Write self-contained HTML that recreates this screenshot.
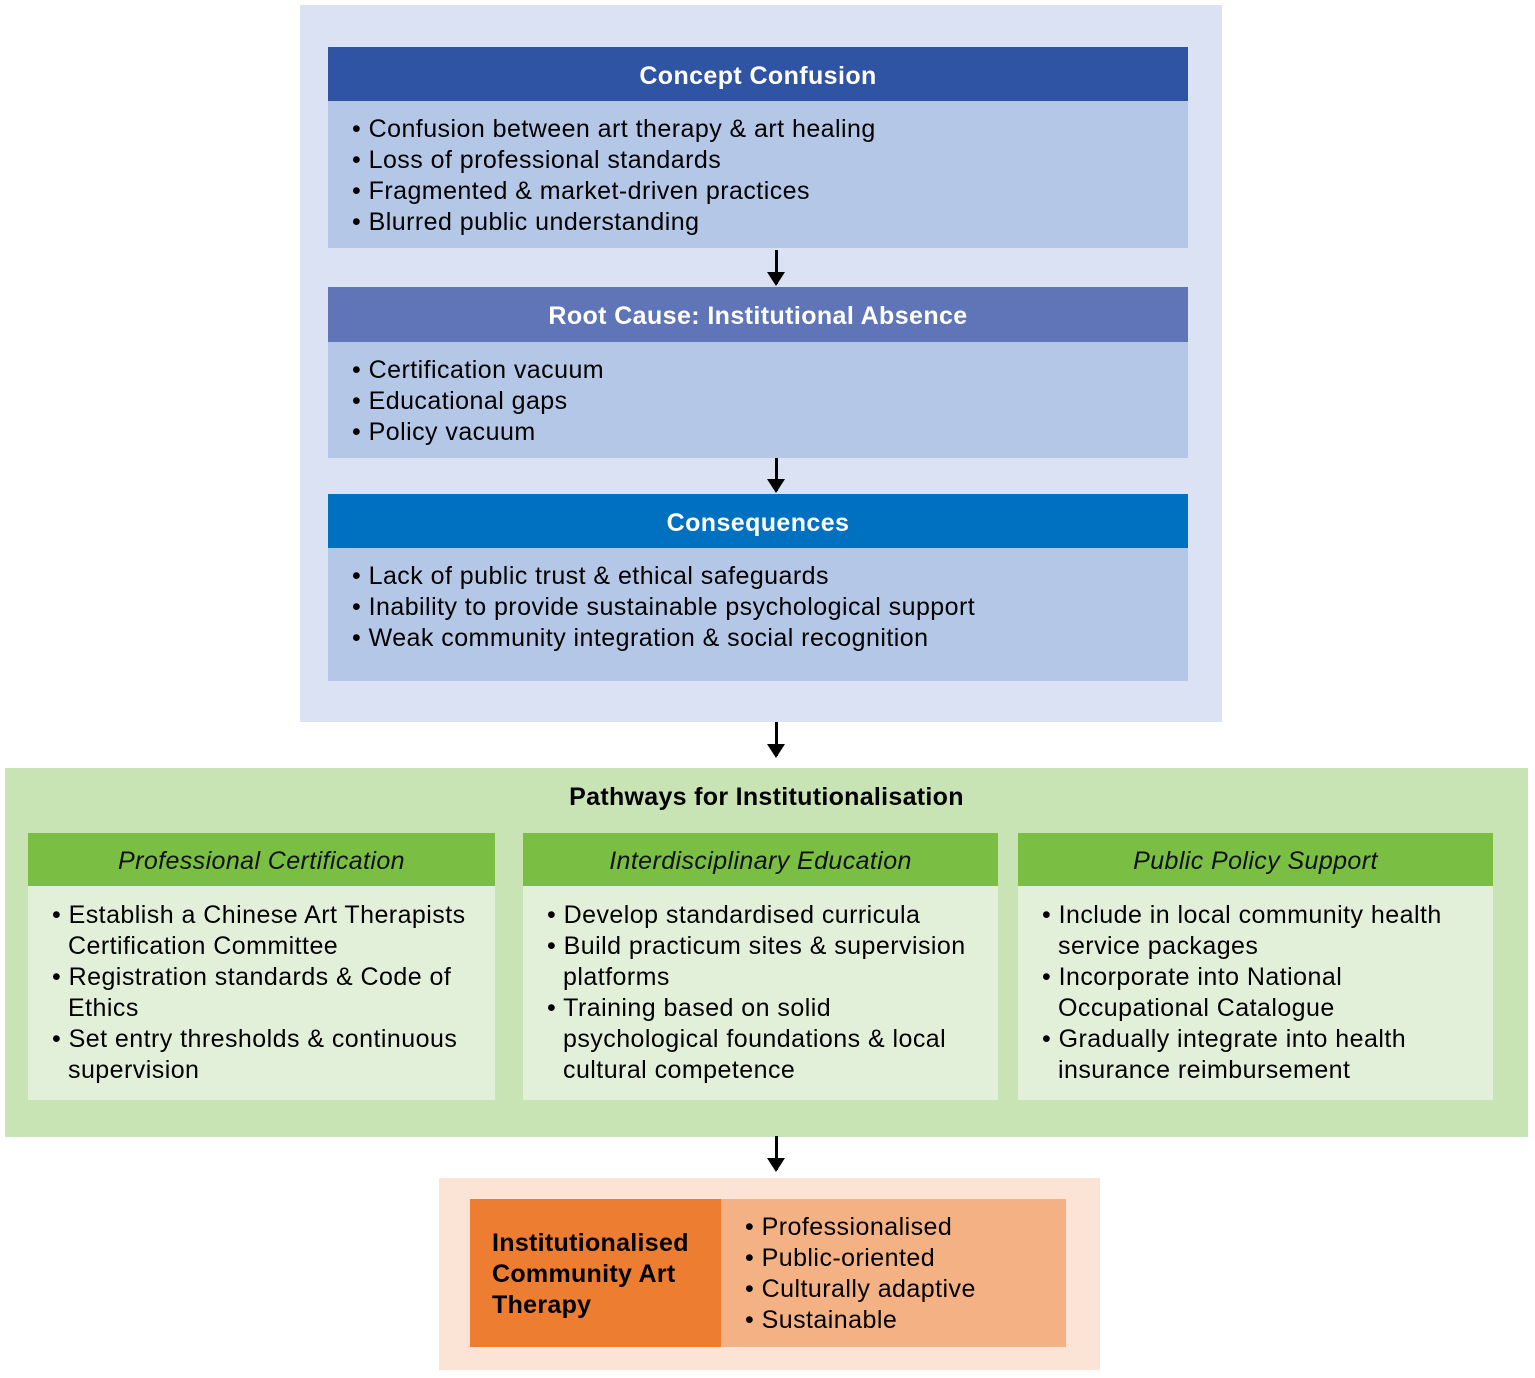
<!DOCTYPE html>
<html><head><meta charset="utf-8"><style>
*{margin:0;padding:0;box-sizing:border-box}
body{width:1535px;height:1378px;background:#fff;font-family:"Liberation Sans",Arial,sans-serif;position:relative;overflow:hidden;color:#000}
.a{position:absolute}
.hd{position:absolute;color:#fff;font-weight:bold;font-size:25px;letter-spacing:0.4px;text-align:center;display:flex;align-items:center;justify-content:center;padding-top:4px}
.ul{position:absolute;font-size:25px;letter-spacing:0.45px;line-height:31px}
.ul div{padding-left:16px;text-indent:-16px}
.gh{position:absolute;background:#7abf43;font-style:italic;font-size:25px;letter-spacing:0.4px;display:flex;align-items:center;justify-content:center;color:#111;padding-top:3px}
.gb{position:absolute;background:#e2f0d9}
.arr{position:absolute;width:3px;background:#000}
.arr:after{content:"";position:absolute;left:-8px;bottom:-2px;border-left:9.5px solid transparent;border-right:9.5px solid transparent;border-top:14px solid #000}
</style></head><body>
<div class="a" style="left:300px;top:5px;width:922px;height:717px;background:#dae2f4"></div>

<div class="hd" style="left:328px;top:47px;width:860px;height:54px;background:#2e54a3">Concept Confusion</div>
<div class="a" style="left:328px;top:101px;width:860px;height:147px;background:#b4c7e7"></div>
<div class="ul" style="left:352px;top:114px;width:830px">
<div>• Confusion between art therapy &amp; art healing</div>
<div>• Loss of professional standards</div>
<div>• Fragmented &amp; market-driven practices</div>
<div>• Blurred public understanding</div></div>
<div class="arr" style="left:775px;top:250px;height:34px"></div>

<div class="hd" style="left:328px;top:287px;width:860px;height:55px;background:#5f75b8">Root Cause: Institutional Absence</div>
<div class="a" style="left:328px;top:342px;width:860px;height:116px;background:#b4c7e7"></div>
<div class="ul" style="left:352px;top:355px;width:830px">
<div>• Certification vacuum</div>
<div>• Educational gaps</div>
<div>• Policy vacuum</div></div>
<div class="arr" style="left:775px;top:458px;height:33px"></div>

<div class="hd" style="left:328px;top:494px;width:860px;height:54px;background:#0070c0">Consequences</div>
<div class="a" style="left:328px;top:548px;width:860px;height:133px;background:#b4c7e7"></div>
<div class="ul" style="left:352px;top:561px;width:850px">
<div>• Lack of public trust &amp; ethical safeguards</div>
<div>• Inability to provide sustainable psychological support</div>
<div>• Weak community integration &amp; social recognition</div></div>
<div class="arr" style="left:775px;top:722px;height:34px"></div>

<div class="a" style="left:5px;top:768px;width:1523px;height:369px;background:#c8e4b5"></div>
<div class="a" style="left:5px;top:783px;width:1523px;text-align:center;font-weight:bold;font-size:25px;letter-spacing:0.3px">Pathways for Institutionalisation</div>

<div class="gh" style="left:28px;top:833px;width:467px;height:53px">Professional Certification</div>
<div class="gb" style="left:28px;top:886px;width:467px;height:214px"></div>
<div class="ul" style="left:52px;top:900px;width:430px">
<div>• Establish a Chinese Art Therapists Certification Committee</div>
<div>• Registration standards &amp; Code of Ethics</div>
<div>• Set entry thresholds &amp; continuous supervision</div></div>

<div class="gh" style="left:523px;top:833px;width:475px;height:53px">Interdisciplinary Education</div>
<div class="gb" style="left:523px;top:886px;width:475px;height:214px"></div>
<div class="ul" style="left:547px;top:900px;width:440px">
<div>• Develop standardised curricula</div>
<div>• Build practicum sites &amp; supervision platforms</div>
<div>• Training based on solid psychological foundations &amp; local cultural competence</div></div>

<div class="gh" style="left:1018px;top:833px;width:475px;height:53px">Public Policy Support</div>
<div class="gb" style="left:1018px;top:886px;width:475px;height:214px"></div>
<div class="ul" style="left:1042px;top:900px;width:420px">
<div>• Include in local community health service packages</div>
<div>• Incorporate into National Occupational Catalogue</div>
<div>• Gradually integrate into health insurance reimbursement</div></div>
<div class="arr" style="left:775px;top:1136px;height:34px"></div>

<div class="a" style="left:439px;top:1178px;width:661px;height:192px;background:#fbe4d5"></div>
<div class="a" style="left:470px;top:1199px;width:251px;height:148px;background:#ed7d31"></div>
<div class="a" style="left:721px;top:1199px;width:345px;height:148px;background:#f4b183"></div>
<div class="a" style="left:492px;top:1228px;font-weight:bold;font-size:25px;letter-spacing:0.3px;line-height:31px">Institutionalised<br>Community Art<br>Therapy</div>
<div class="ul" style="left:745px;top:1212px;width:320px">
<div>• Professionalised</div>
<div>• Public-oriented</div>
<div>• Culturally adaptive</div>
<div>• Sustainable</div></div>
</body></html>
